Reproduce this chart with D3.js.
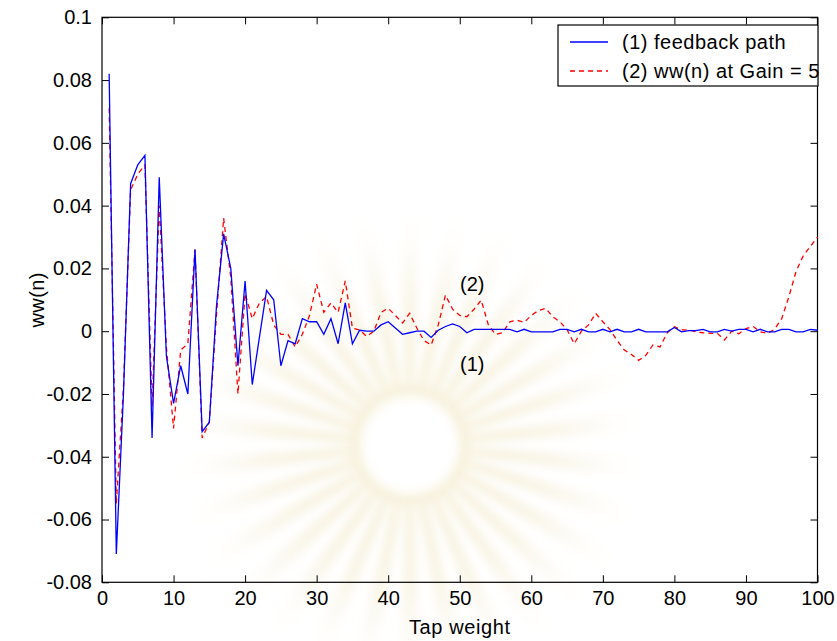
<!DOCTYPE html>
<html>
<head>
<meta charset="utf-8">
<script src="https://cdn.jsdelivr.net/npm/d3@7"></script>
<style>
  html, body { margin: 0; padding: 0; background: #ffffff; }
  svg { display: block; }
  text { font-family: "Liberation Sans", Arial, Helvetica, sans-serif; fill: #000; }
</style>
</head>
<body>
<svg id="chart" width="837" height="641"></svg>
<script>
// Tap index n = 1..100
const taps = d3.range(1, 101);

// (1) feedback path impulse response
const feedbackPath = [
  0.082, -0.071, -0.020, 0.047, 0.053, 0.056, -0.034, 0.049, -0.008, -0.023,
  -0.011, -0.020, 0.026, -0.032, -0.029, 0.008, 0.031, 0.020, -0.011, 0.016,
  -0.017, -0.002, 0.013, 0.010, -0.011, -0.003, -0.004, 0.004, 0.003, 0.003,
  -0.001, 0.004, -0.004, 0.009, -0.004, 0.0003, 0.0, 0.0, 0.002, 0.003,
  0.001, -0.001, -0.0005, 0.0, 0.0, -0.002, 0.0003, 0.0015, 0.0023, 0.0015,
  -0.0005, 0.0006, 0.0006, 0.0006, 0.0006, 0.0006, 0.0006, -0.0002, 0.0006, -0.0002,
  -0.0002, -0.0002, -0.0002, 0.0006, 0.0006, -0.0002, 0.0006, -0.0002, -0.0002, 0.0006,
  -0.0002, 0.0006, -0.0002, -0.0002, 0.0006, -0.0002, -0.0002, -0.0002, -0.0002, 0.0012,
  -0.0002, 0.0002, 0.0002, 0.0006, -0.0002, -0.0002, 0.0006, 0.0, 0.0006, 0.0006,
  -0.0002, 0.0006, -0.0002, -0.0002, 0.0006, 0.0006, -0.0002, -0.0002, 0.0006, 0.0003
];

// (2) adapted weights ww(n) at Gain = 5
const gain5 = [
  0.071, -0.055, -0.018, 0.045, 0.050, 0.053, -0.024, 0.040, -0.005, -0.031,
  -0.006, -0.004, 0.026, -0.034, -0.029, 0.005, 0.036, 0.017, -0.020, 0.012,
  0.004, 0.009, 0.011, 0.002, -0.001, -0.001, -0.005, -0.001, 0.005, 0.015,
  0.006, 0.009, 0.006, 0.016, 0.001, 0.0004, -0.0017, 0.0, 0.006, 0.0073,
  0.005, 0.0026, 0.0057, 0.001, -0.003, -0.0044, 0.002, 0.0115, 0.007, 0.005,
  0.0046, 0.007, 0.0099, 0.002, -0.001, -0.0005, 0.003, 0.0035, 0.0028, 0.005,
  0.0066, 0.0073, 0.0046, 0.003, 0.0005, -0.004, 0.0, 0.002, 0.0057, 0.003,
  0.0005, -0.003, -0.006, -0.0074, -0.0093, -0.0077, -0.0044, -0.005, -0.0005, 0.0014,
  0.0004, 0.0004, -0.0002, -0.0005, -0.0007, -0.0007, -0.0028, 0.0, -0.0008, 0.0008,
  0.0015, -0.0002, -0.0007, 0.0006, 0.004, 0.011, 0.019, 0.024, 0.027, 0.030
];

const xTickValues = [0, 10, 20, 30, 40, 50, 60, 70, 80, 90, 100];
const yTickValues = [-0.08, -0.06, -0.04, -0.02, 0, 0.02, 0.04, 0.06, 0.08, 0.1];

const seriesLabels = ["(1) feedback path", "(2) ww(n) at Gain = 5"];
const xTitle = "Tap weight";
const yTitle = "ww(n)";

(function draw() {
  const svg = d3.select("#chart");
  const plotLeft = 102, plotRight = 817.5, plotTop = 17.3, plotBottom = 582.3;

  const x = d3.scaleLinear().domain([0, 100]).range([plotLeft, plotRight]);
  const y = d3.scaleLinear().domain([-0.08, 0.1]).range([plotBottom, plotTop]);

  // faint sunburst emblem in the background
  const cx = 410, cy = 445;
  const defs = svg.append("defs");
  defs.append("filter").attr("id", "soft")
    .attr("x", "-30%").attr("y", "-30%").attr("width", "160%").attr("height", "160%")
    .append("feGaussianBlur").attr("stdDeviation", 5);
  const grad = defs.append("radialGradient").attr("id", "rayFade")
    .attr("gradientUnits", "userSpaceOnUse")
    .attr("cx", 0).attr("cy", 0).attr("r", 250);
  grad.append("stop").attr("offset", "0.2").attr("stop-color", "#efe2b8").attr("stop-opacity", 0.7);
  grad.append("stop").attr("offset", "0.6").attr("stop-color", "#f4ebd0").attr("stop-opacity", 0.45);
  grad.append("stop").attr("offset", "1").attr("stop-color", "#ffffff").attr("stop-opacity", 0);

  const emblem = svg.append("g").attr("transform", `translate(${cx},${cy})`);
  const rays = d3.range(0, 30);
  const arc = d3.arc();
  emblem.append("g").attr("filter", "url(#soft)")
    .selectAll("path").data(rays).join("path")
    .attr("d", i => {
      const a0 = i * (2 * Math.PI / 30);
      return arc({innerRadius: 50, outerRadius: 250,
                  startAngle: a0 - 0.05, endAngle: a0 + 0.05});
    })
    .attr("fill", "url(#rayFade)");
  emblem.append("circle").attr("r", 60)
    .attr("fill", "#f6efd6").attr("opacity", 0.6).attr("filter", "url(#soft)");
  emblem.append("circle").attr("r", 48)
    .attr("fill", "#ffffff").attr("filter", "url(#soft)");

  // ticks on all four sides, pointing inward
  const tick = 7;
  svg.append("g").attr("transform", `translate(0,${plotBottom})`)
    .call(d3.axisBottom(x).tickValues(xTickValues).tickSizeInner(-tick).tickSizeOuter(0).tickPadding(9).tickFormat(d3.format("d")))
    .call(g => g.select(".domain").remove());
  svg.append("g").attr("transform", `translate(0,${plotTop})`)
    .call(d3.axisTop(x).tickValues(xTickValues).tickSizeInner(-tick).tickSizeOuter(0).tickFormat(""))
    .call(g => g.select(".domain").remove());
  svg.append("g").attr("transform", `translate(${plotLeft},0)`)
    .call(d3.axisLeft(y).tickValues(yTickValues).tickSizeInner(-tick).tickSizeOuter(0).tickPadding(10)
      .tickFormat(d => String(+d.toFixed(2))))
    .call(g => g.select(".domain").remove());
  svg.append("g").attr("transform", `translate(${plotRight},0)`)
    .call(d3.axisRight(y).tickValues(yTickValues).tickSizeInner(-tick).tickSizeOuter(0).tickFormat(""))
    .call(g => g.select(".domain").remove());

  svg.selectAll(".tick line").attr("stroke", "#000").attr("stroke-width", 1);
  svg.selectAll(".tick text").attr("font-size", 20)
    .attr("font-family", "'Liberation Sans', Arial, sans-serif").attr("fill", "#000");

  // frame
  svg.append("rect").attr("x", plotLeft).attr("y", plotTop)
    .attr("width", plotRight - plotLeft).attr("height", plotBottom - plotTop)
    .attr("fill", "none").attr("stroke", "#000").attr("stroke-width", 1.2);

  // data lines
  const line = d3.line().x((d, i) => x(taps[i])).y(d => y(d));
  svg.append("path").datum(gain5)
    .attr("d", line).attr("fill", "none")
    .attr("stroke", "#ff0000").attr("stroke-width", 1.3)
    .attr("stroke-dasharray", "5,4");
  svg.append("path").datum(feedbackPath)
    .attr("d", line).attr("fill", "none")
    .attr("stroke", "#0000ff").attr("stroke-width", 1.3);

  // curve annotations
  svg.append("text").attr("x", 460).attr("y", 291).attr("font-size", 20).text("(2)");
  svg.append("text").attr("x", 460).attr("y", 371).attr("font-size", 20).text("(1)");

  // axis titles
  svg.append("text").attr("x", (plotLeft + plotRight) / 2).attr("y", 634)
    .attr("text-anchor", "middle").attr("font-size", 20).attr("letter-spacing", 0.6)
    .text(xTitle);
  svg.append("text")
    .attr("transform", `translate(44,${(plotTop + plotBottom) / 2}) rotate(-90)`)
    .attr("text-anchor", "middle").attr("font-size", 20).attr("letter-spacing", 0.4)
    .text(yTitle);

  // legend
  const lg = svg.append("g");
  lg.append("rect").attr("x", 558).attr("y", 25).attr("width", 260).attr("height", 61)
    .attr("fill", "#fff").attr("stroke", "#000").attr("stroke-width", 1.2);
  const legendRows = [
    {label: seriesLabels[0], color: "#0000ff", dash: null, yy: 42},
    {label: seriesLabels[1], color: "#ff0000", dash: "5,4", yy: 71}
  ];
  legendRows.forEach(r => {
    lg.append("line").attr("x1", 570).attr("x2", 608).attr("y1", r.yy).attr("y2", r.yy)
      .attr("stroke", r.color).attr("stroke-width", 1.3)
      .attr("stroke-dasharray", r.dash);
    lg.append("text").attr("x", 622).attr("y", r.yy + 7).attr("font-size", 20)
      .attr("letter-spacing", 0.5).text(r.label);
  });
})();
</script>
</body>
</html>
